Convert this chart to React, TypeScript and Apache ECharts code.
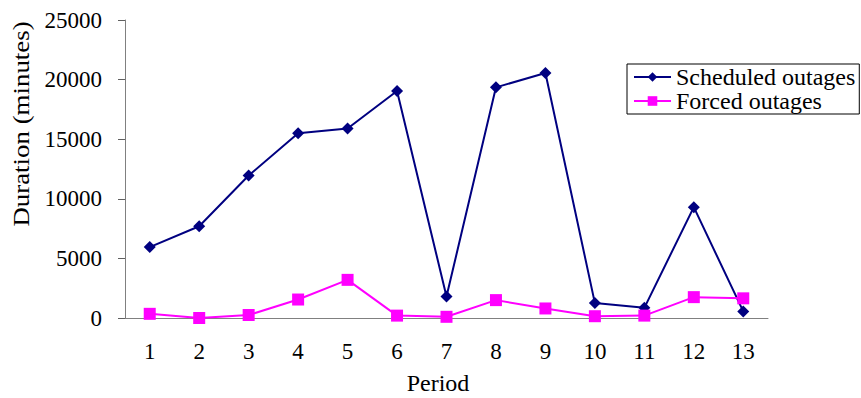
import React, { useEffect, useRef } from "react";
import * as echarts from "echarts";

const periods = ["1", "2", "3", "4", "5", "6", "7", "8", "9", "10", "11", "12", "13"];
const scheduledOutages = [5950, 7700, 11950, 15500, 15900, 19050, 1800, 19350, 20550, 1250, 850, 9300, 550];
const forcedOutages = [350, 0, 250, 1550, 3200, 200, 100, 1500, 800, 150, 200, 1750, 1650];

const FONT = "'Liberation Serif', 'Times New Roman', serif";

export default function App() {
  const ref = useRef<HTMLDivElement>(null);

  useEffect(() => {
    if (!ref.current) return;
    const chart = echarts.init(ref.current, undefined, { renderer: "svg" });
    chart.setOption({
      animation: false,
      backgroundColor: "#ffffff",
      grid: { left: 125, top: 20, right: 93, bottom: 80, containLabel: false },
      legend: {
        orient: "vertical",
        left: 627,
        top: 64,
        padding: [1, 4, 1, 6],
        itemGap: 0,
        itemWidth: 37,
        itemHeight: 12,
        borderColor: "#000000",
        borderWidth: 1,
        textStyle: { fontFamily: FONT, fontSize: 24, color: "#000000" },
        data: ["Scheduled outages", "Forced outages"],
      },
      xAxis: {
        type: "category",
        data: periods,
        boundaryGap: true,
        axisLine: { lineStyle: { color: "#808080", width: 1 } },
        axisTick: { interval: 0, length: 8, lineStyle: { color: "#606060" } },
        axisLabel: { fontFamily: FONT, fontSize: 23, color: "#000000", margin: 22 },
      },
      yAxis: {
        type: "value",
        min: 0,
        max: 25000,
        interval: 5000,
        splitLine: { show: false },
        axisLine: { show: true, lineStyle: { color: "#808080", width: 1 } },
        axisTick: { show: true, length: 7, lineStyle: { color: "#606060" } },
        axisLabel: {
          fontFamily: FONT,
          fontSize: 23,
          color: "#000000",
          margin: 23,
          formatter: (v: number) => String(v),
        },
      },
      graphic: [
        {
          type: "text",
          x: 21,
          y: 124,
          rotation: Math.PI / 2,
          scaleX: 1.12,
          style: {
            text: "Duration (minutes)",
            fontFamily: FONT,
            fontSize: 24,
            fill: "#000000",
            align: "center",
            verticalAlign: "middle",
          },
        },
        {
          type: "text",
          x: 438,
          y: 383,
          style: {
            text: "Period",
            fontFamily: FONT,
            fontSize: 24,
            fill: "#000000",
            align: "center",
            verticalAlign: "middle",
          },
        },
      ],
      series: [
        {
          name: "Scheduled outages",
          type: "line",
          data: scheduledOutages,
          symbol: "diamond",
          symbolSize: 12,
          lineStyle: { color: "#000080", width: 2 },
          itemStyle: { color: "#000080" },
        },
        {
          name: "Forced outages",
          type: "line",
          data: forcedOutages,
          symbol: "rect",
          symbolSize: 12,
          lineStyle: { color: "#FF00FF", width: 2 },
          itemStyle: { color: "#FF00FF" },
        },
      ],
    });
    return () => chart.dispose();
  }, []);

  return <div ref={ref} style={{ width: 861, height: 398, position: "absolute", left: 0, top: 0 }} />;
}
